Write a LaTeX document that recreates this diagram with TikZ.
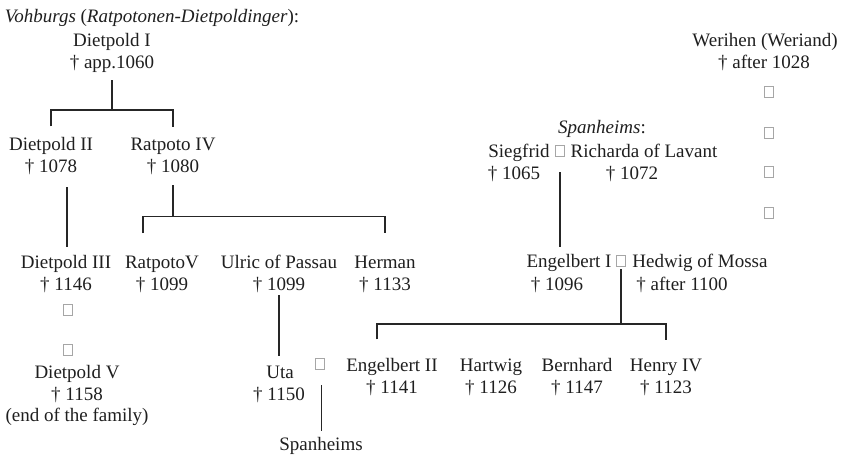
\documentclass[tikz,border=0pt]{standalone}
\usepackage{fontspec}
\setmainfont{Liberation Serif}
\begin{document}
\begin{tikzpicture}[x=1pt,y=-1pt,
  t/.style={anchor=base, inner sep=0pt, outer sep=0pt, font=\fontsize{19}{22}\selectfont, text=black!88},
  tofu/.style={draw=black!35, line width=0.8pt, minimum width=9.5pt, minimum height=11.5pt, inner sep=0pt},
  ln/.style={line width=1.2pt, draw=black!85}]
\useasboundingbox (0,0) rectangle (843,459);
\fill[white] (0,0) rectangle (843,459);

% Vohburgs
\node[t] (title) at (152,22) {\textit{Vohburgs} (\textit{Ratpotonen-Dietpoldinger}):};
\node[t] (d1) at (112,46) {Dietpold I};
\node[t] (d1d) at (112,68) {† app.1060};
\node[t] (d2) at (51,150) {Dietpold II};
\node[t] (d2d) at (51,172) {† 1078};
\node[t] (r4) at (173,150) {Ratpoto IV};
\node[t] (r4d) at (173,172) {† 1080};
\node[t] (d3) at (66,268) {Dietpold III};
\node[t] (d3d) at (66,290) {† 1146};
\node[t] (r5) at (162,268) {RatpotoV};
\node[t] (r5d) at (162,290) {† 1099};
\node[t] (ul) at (279,268) {Ulric of Passau};
\node[t] (uld) at (279,290) {† 1099};
\node[t] (he) at (385,268) {Herman};
\node[t] (hed) at (385,290) {† 1133};
\node[tofu] (dm1) at (68,310) {};
\node[tofu] (dm2) at (68,350) {};
\node[t] (d5) at (77,378) {Dietpold V};
\node[t] (d5d) at (77,400) {† 1158};
\node[t] (d5e) at (77,421) {(end of the family)};
\node[t] (ut) at (280,378) {Uta};
\node[t] (utd) at (279,400) {† 1150};
\node[tofu] (um) at (320,364) {};
\node[t] (sp2) at (321,450) {Spanheims};

% Spanheims
\node[t] (sp) at (602,133) {\textit{Spanheims}:};
\node[t] (si) at (519,157) {Siegfrid};
\node[tofu] (sm) at (560,151) {};
\node[t] (ri) at (644,157) {Richarda of Lavant};
\node[t] (sid) at (514,179) {† 1065};
\node[t] (rid) at (632,179) {† 1072};
\node[t] (e1) at (569,267) {Engelbert I};
\node[tofu] (e1m) at (621,261) {};
\node[t] (hw) at (700,267) {Hedwig of Mossa};
\node[t] (e1d) at (557,290) {† 1096};
\node[t] (hwd) at (682,290) {† after 1100};
\node[t] (e2) at (392,371) {Engelbert II};
\node[t] (e2d) at (392,393) {† 1141};
\node[t] (ha) at (491,371) {Hartwig};
\node[t] (had) at (491,393) {† 1126};
\node[t] (be) at (577,371) {Bernhard};
\node[t] (bed) at (577,393) {† 1147};
\node[t] (h4) at (666,371) {Henry IV};
\node[t] (h4d) at (666,393) {† 1123};

% Werihen
\node[t] (we) at (765,46) {Werihen (Weriand)};
\node[t] (wed) at (764,68) {† after 1028};
\node[tofu] (w1) at (769,92) {};
\node[tofu] (w2) at (769,133) {};
\node[tofu] (w3) at (769,172) {};
\node[tofu] (w4) at (769,213) {};

% connectors
\coordinate (f1) at (112,110);
\draw[ln] ([yshift=-8pt]d1d.south) -- (f1);
\draw[ln] ([yshift=10.5pt]d2.north) |- (f1) -| ([yshift=10.5pt]r4.north);
\draw[ln] ([xshift=1pt,yshift=-13pt]d2d.south -| d3.north) -- ([xshift=1pt,yshift=7.5pt]d3.north);
\coordinate (f2) at (173,216.7);
\draw[ln] ([yshift=-11pt]r4d.south) -- (f2);
\draw[ln] ([xshift=-19pt,yshift=22.5pt]r5.north) |- (f2) -| ([yshift=22.5pt]he.north);
\draw[ln] ([yshift=-3pt]uld.south) -- ([yshift=10pt]uld.south |- ut.north);
\draw[ln] ([xshift=1.5pt,yshift=-15pt]um.south) -- ([xshift=1.5pt,yshift=5.5pt]um.south |- sp2.north);
\draw[ln] ([yshift=-15pt]sm.south) -- ([yshift=6.5pt]sm.south |- e1.north);
\coordinate (f3) at (621,324);
\draw[ln] ([yshift=-2pt]e1m.south) -- (f3);
\draw[ln] ([xshift=-15pt,yshift=18.5pt]e2.north) |- (f3) -| ([yshift=18.5pt]h4.north);
\end{tikzpicture}
\end{document}
